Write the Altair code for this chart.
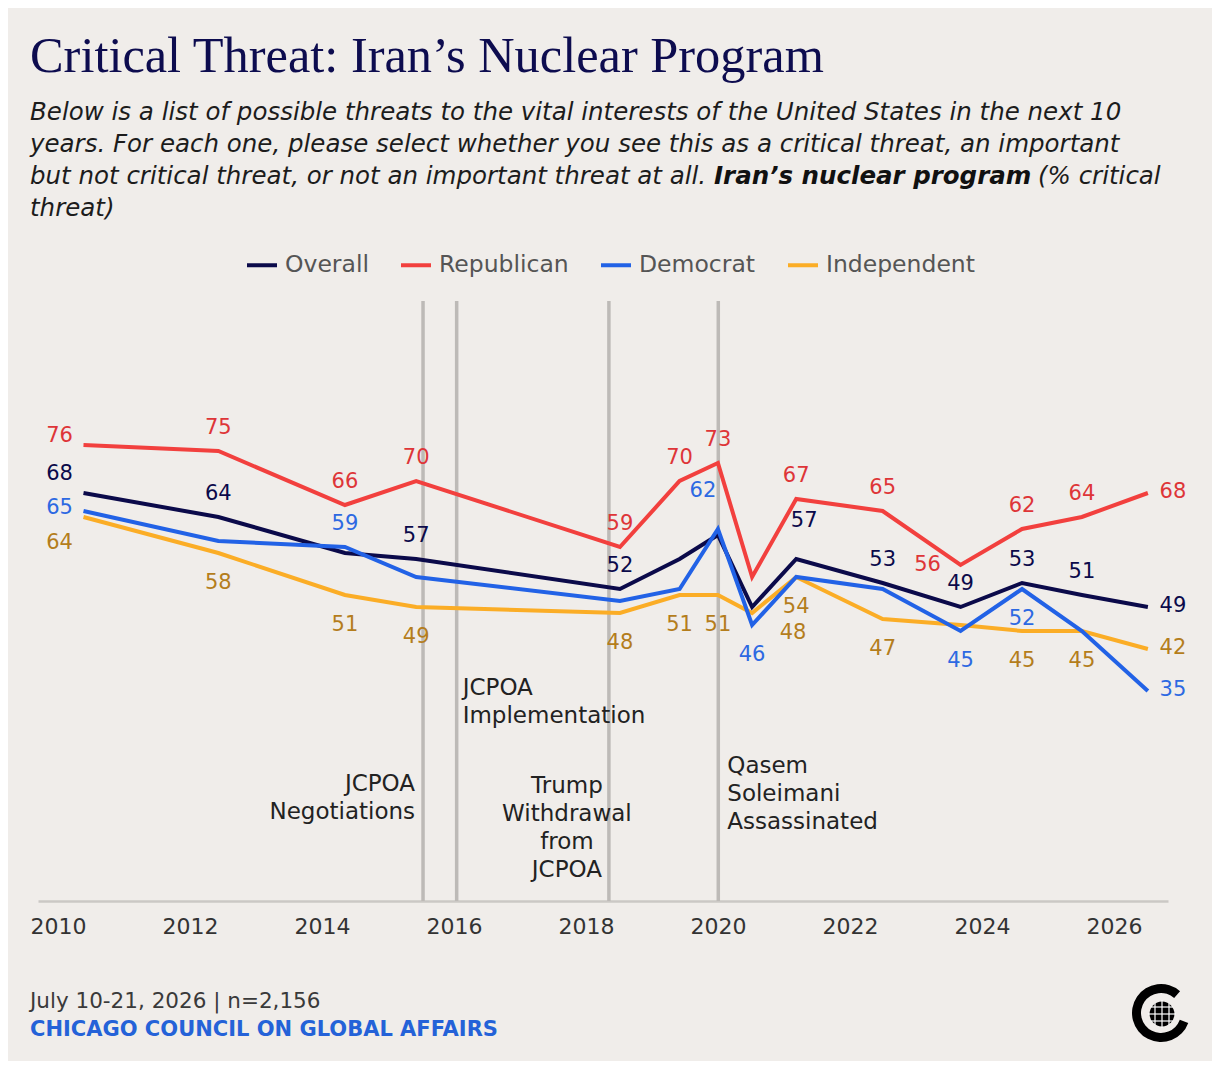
import altair as alt
import pandas as pd

FONT = "DejaVu Sans"

# ---------------- data ----------------
survey_dates = ["2010-05-22", "2012-06-06", "2014-05-08", "2015-06-06", "2018-07-08",
                "2019-06-03", "2020-01-01", "2020-07-08", "2021-03-10", "2022-07-01",
                "2023-09-05", "2024-08-10", "2025-07-08", "2026-07-08"]
overall     = [68, 64, 58, 57, 52, 57, 61, 49, 57, 53, 49, 53, 51, 49]
republican  = [76, 75, 66, 70, 59, 70, 73, 54, 67, 65, 56, 62, 64, 68]
democrat    = [65, 60, 59, 54, 50, 52, 62, 46, 54, 52, 45, 52, 45, 35]
independent = [64, 58, 51, 49, 48, 51, 51, 48, 54, 47, 46, 45, 45, 42]

# where each value label sits relative to its point ("" = not labelled)
overall_place     = ["start_b", "above", "", "above", "above", "", "", "", "high", "above", "above", "above", "above", "right"]
republican_place  = ["start_a", "above", "above", "above", "above", "above", "above", "", "above", "above", "left", "above", "above", "right"]
democrat_place    = ["start_c", "", "above", "", "", "", "highleft", "below", "", "", "below", "below", "", "right"]
independent_place = ["start_d", "below", "below", "below", "below", "below", "below", "downright", "below", "below", "", "below", "below", "right"]

series_names = ["Overall", "Republican", "Democrat", "Independent"]
line_colors  = ["#0b0a4a", "#f2403e", "#2262e6", "#fbad26"]
label_colors = ["#0b0a4a", "#de3538", "#2d69e2", "#b47d1c"]

event_dates = ["2015-07-14", "2016-01-16", "2018-05-08", "2020-01-03"]
event_texts = ["JCPOA\nNegotiations", "JCPOA\nImplementation",
               "Trump\nWithdrawal\nfrom\nJCPOA", "Qasem\nSoleimani\nAssassinated"]

tick_years = [2010, 2012, 2014, 2016, 2018, 2020, 2022, 2024, 2026]

title_text = "Critical Threat: Iran\u2019s Nuclear Program"
subtitle_lines = [
    "Below is a list of possible threats to the vital interests of the United States in the next 10",
    "years. For each one, please select whether you see this as a critical threat, an important",
    "but not critical threat, or not an important threat at all.",
]
subtitle_bold = "Iran\u2019s nuclear program"
subtitle_tail = "(% critical"
subtitle_last = "threat)"
footer_date = "July 10-21, 2026 | n=2,156"
footer_org = "CHICAGO COUNCIL ON GLOBAL AFFAIRS"


def to_year(dates):
    d = pd.to_datetime(pd.Series(dates))
    return (d.dt.year + (d.dt.dayofyear - 1) / 365.0).tolist()


yrs = to_year(survey_dates)
rows = []
for name, vals, places in [("Independent", independent, independent_place),
                           ("Overall", overall, overall_place),
                           ("Democrat", democrat, democrat_place),
                           ("Republican", republican, republican_place)]:
    for y, v, p in zip(yrs, vals, places):
        rows.append({"yr": y, "value": v, "series": name, "place": p})
df = pd.DataFrame(rows)

events = pd.DataFrame({"yr": to_year(event_dates), "text": event_texts})

# ---------------- encodings ----------------
xscale = alt.Scale(domain=[2009.697, 2026.82], nice=False, zero=False)
xaxis = alt.Axis(values=tick_years, format="d", title=None, ticks=False, grid=False,
                 domainColor="#cbc8c5", domainWidth=2.5, labelFont=FONT, labelFontSize=22,
                 labelColor="#333333", labelPadding=15, labelFlush=False)


def X():
    return alt.X("yr:Q", scale=xscale, axis=xaxis)


def Y():
    return alt.Y("value:Q", scale=alt.Scale(domain=[0, 100], nice=False), axis=None)


rules = alt.Chart(events).mark_rule(color="#bdbab7", strokeWidth=3.5).encode(x=X())

lines = alt.Chart(df).mark_line(strokeWidth=4).encode(
    x=X(), y=Y(),
    color=alt.Color("series:N", sort=series_names,
                    scale=alt.Scale(domain=series_names, range=line_colors),
                    legend=alt.Legend(orient="none", legendX=207, legendY=-53,
                                      direction="horizontal", title=None,
                                      symbolType="stroke", symbolSize=900,
                                      symbolStrokeWidth=4, labelFont=FONT,
                                      labelFontSize=23.5, labelColor="#555555",
                                      columnPadding=24, labelOffset=6)),
    detail="series:N",
)

offsets = {
    "above": (0, -23), "below": (0, 30), "right": (25, -1), "high": (8, -38),
    "highleft": (-15, -38), "downright": (41, 20), "left": (-33, 0),
    "start_a": (-24, -9), "start_b": (-24, -19), "start_c": (-24, -3), "start_d": (-24, 26),
}
label_layers = []
for place, (dx, dy) in offsets.items():
    label_layers.append(
        alt.Chart(df).transform_filter(alt.datum.place == place)
        .mark_text(font=FONT, fontSize=21, dx=dx, dy=dy, baseline="middle", align="center")
        .encode(x=X(), y=Y(), text="value:Q",
                fill=alt.Fill("series:N", scale=alt.Scale(domain=series_names, range=label_colors),
                              legend=None))
    )

# event annotations: (align, dx, first-line y in px)
event_style = [("right", -8, 483), ("left", 6, 387), ("center", -42, 485), ("left", 9, 465)]
event_layers = []
for i, (al, dx, py) in enumerate(event_style):
    event_layers.append(
        alt.Chart(events.iloc[[i]]).mark_text(font=FONT, fontSize=23, color="#222222", align=al,
                                             dx=dx, baseline="middle", lineBreak="\n",
                                             lineHeight=28)
        .encode(x=X(), y=alt.value(py), text="text:N")
    )


def note(text, x, y, **kw):
    return alt.Chart(pd.DataFrame({"t": [text]})).mark_text(**kw).encode(
        x=alt.value(x), y=alt.value(y), text="t:N")


SUB = 24.5
sub_kw = dict(font=FONT, fontSize=SUB, fontStyle="italic", color="#1c1c1c", align="left", baseline="middle")
header = [
    note(title_text, -8, -229, font="Liberation Serif", fontSize=50.4, color="#0d0c4f",
         align="left", baseline="alphabetic"),
    note(subtitle_lines[0], -8, -188, **sub_kw),
    note(subtitle_lines[1], -8, -156, **sub_kw),
    note(subtitle_lines[2], -8, -124, **sub_kw),
    note(subtitle_bold, 676, -124, font=FONT, fontSize=SUB, fontStyle="italic", fontWeight="bold",
         color="#111111", align="left", baseline="middle"),
    note(subtitle_tail, 1000, -124, **sub_kw),
    note(subtitle_last, -8, -92, **sub_kw),
    note(footer_date, -8, 701, font=FONT, fontSize=21.5, color="#3a3a3a", align="left", baseline="middle"),
    note(footer_org, -8, 729, font=FONT, fontSize=21, fontWeight="bold", color="#2462d8",
         align="left", baseline="middle"),
]

# logo
one = pd.DataFrame({"a": [0]})
logo = [
    alt.Chart(one).mark_arc(theta=1.92, theta2=7.0, radius=29, radius2=20, color="#000000")
    .encode(x=alt.value(1123), y=alt.value(712)),
    alt.Chart(one).mark_circle(size=615, color="#000000", opacity=1)
    .encode(x=alt.value(1124), y=alt.value(713)),
]
for (x1, x2, y1, y2) in [(1110, 1138, 713, 713), (1113, 1135, 706, 706), (1113, 1135, 720, 720),
                         (1124, 1124, 699, 727), (1117, 1117, 702, 724), (1131, 1131, 702, 724)]:
    logo.append(alt.Chart(one).mark_rule(color="white", strokeWidth=1.2)
                .encode(x=alt.value(x1), x2=alt.value(x2), y=alt.value(y1), y2=alt.value(y2)))

chart = alt.layer(rules, lines, *label_layers, *event_layers, *header, *logo).properties(
    width=1130, height=600,
    padding={"left": 30, "top": 293, "right": 44, "bottom": 160},
    autosize=alt.AutoSizeParams(type="none"),
).configure(background="#f0edea").configure_view(stroke="transparent")

chart.save("out.html", embed_options={"renderer": "svg", "actions": False})
